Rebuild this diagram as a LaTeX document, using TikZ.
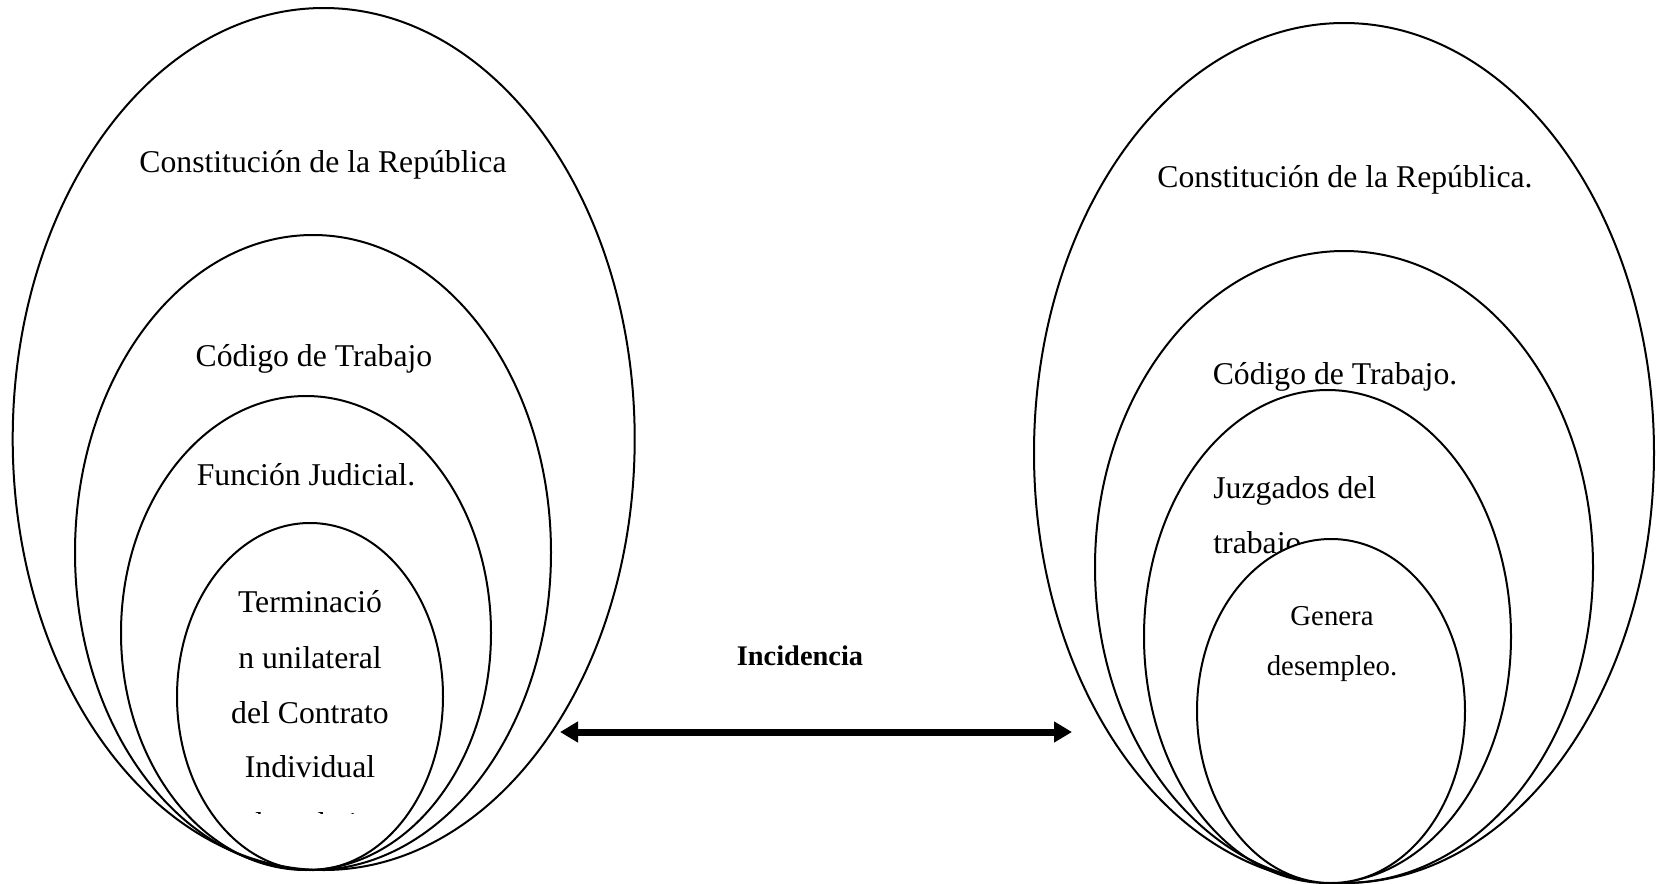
\documentclass[tikz,border=0pt]{standalone}
\usepackage{fontspec}
\setmainfont{Liberation Serif}
\usetikzlibrary{arrows.meta}
\begin{document}
\begin{tikzpicture}[x=0.5pt,y=-0.5pt,
  ring/.style={draw=black,line width=1pt},
  ringw/.style={draw=black,line width=1pt,fill=white},
  lbl/.style={inner sep=0pt,anchor=base,font=\fontsize{15.85}{19}\selectfont},
  lbll/.style={inner sep=0pt,anchor=base west,font=\fontsize{15.85}{19}\selectfont},
  sml/.style={inner sep=0pt,anchor=base,font=\fontsize{14.4}{17}\selectfont},
  bld/.style={inner sep=0pt,anchor=base,font=\fontsize{14.2}{17}\selectfont\bfseries},
  link/.style={line width=3.5pt,{Triangle[length=9pt,width=10pt]}-{Triangle[length=9pt,width=10pt]}}
  ]
\useasboundingbox[fill=white] (0,0) rectangle (1656,884);
% left group
\draw[ring] (323.7,439) ellipse [x radius=311, y radius=431];
\draw[ring] (313,552.5) ellipse [x radius=238, y radius=317.5];
\draw[ring] (306,633) ellipse [x radius=185, y radius=237];
\draw[ring] (310,696.5) ellipse [x radius=133, y radius=173.5];
\node[lbl] (l1) at (323,172) {Constitución de la República};
\node[lbl] (l2) at (314,366) {Código de Trabajo};
\node[lbl] (l3) at (306,485) {Función Judicial.};
\node[lbl] (t1) at (310,612) {Terminació};
\node[lbl] (t2) at (310,668) {n unilateral};
\node[lbl] (t3) at (310,723) {del Contrato};
\node[lbl] (t4) at (310,777) {Individual};
\begin{scope}
  \clip (0,0) rectangle (1656,813);
  \node[lbl] (t5) at (310,834) {de trabajo};
\end{scope}
% right group
\draw[ring] (1344,453) ellipse [x radius=310, y radius=430];
\draw[ring] (1344,567) ellipse [x radius=249, y radius=316];
\draw[ring] (1327.5,636.5) ellipse [x radius=183.5, y radius=246.5];
\node[lbl] (r1) at (1345,187) {Constitución de la República.};
\node[lbl] (r2) at (1335,384) {Código de Trabajo.};
\node[lbll] (r3) at (1213,498) {Juzgados del};
\node[lbll] (r3b) at (1213,553) {trabajo.};
\draw[ringw] (1331,711) ellipse [x radius=134, y radius=172];
\node[sml] (r4) at (1332,625) {Genera};
\node[sml] (r4b) at (1332,675) {desempleo.};
% link
\node[bld] (inc) at (800,665) {Incidencia};
\coordinate (aL) at (560,732);
\coordinate (aR) at (1072,732);
\draw[link] (aL) -- (aR);
\end{tikzpicture}
\end{document}
